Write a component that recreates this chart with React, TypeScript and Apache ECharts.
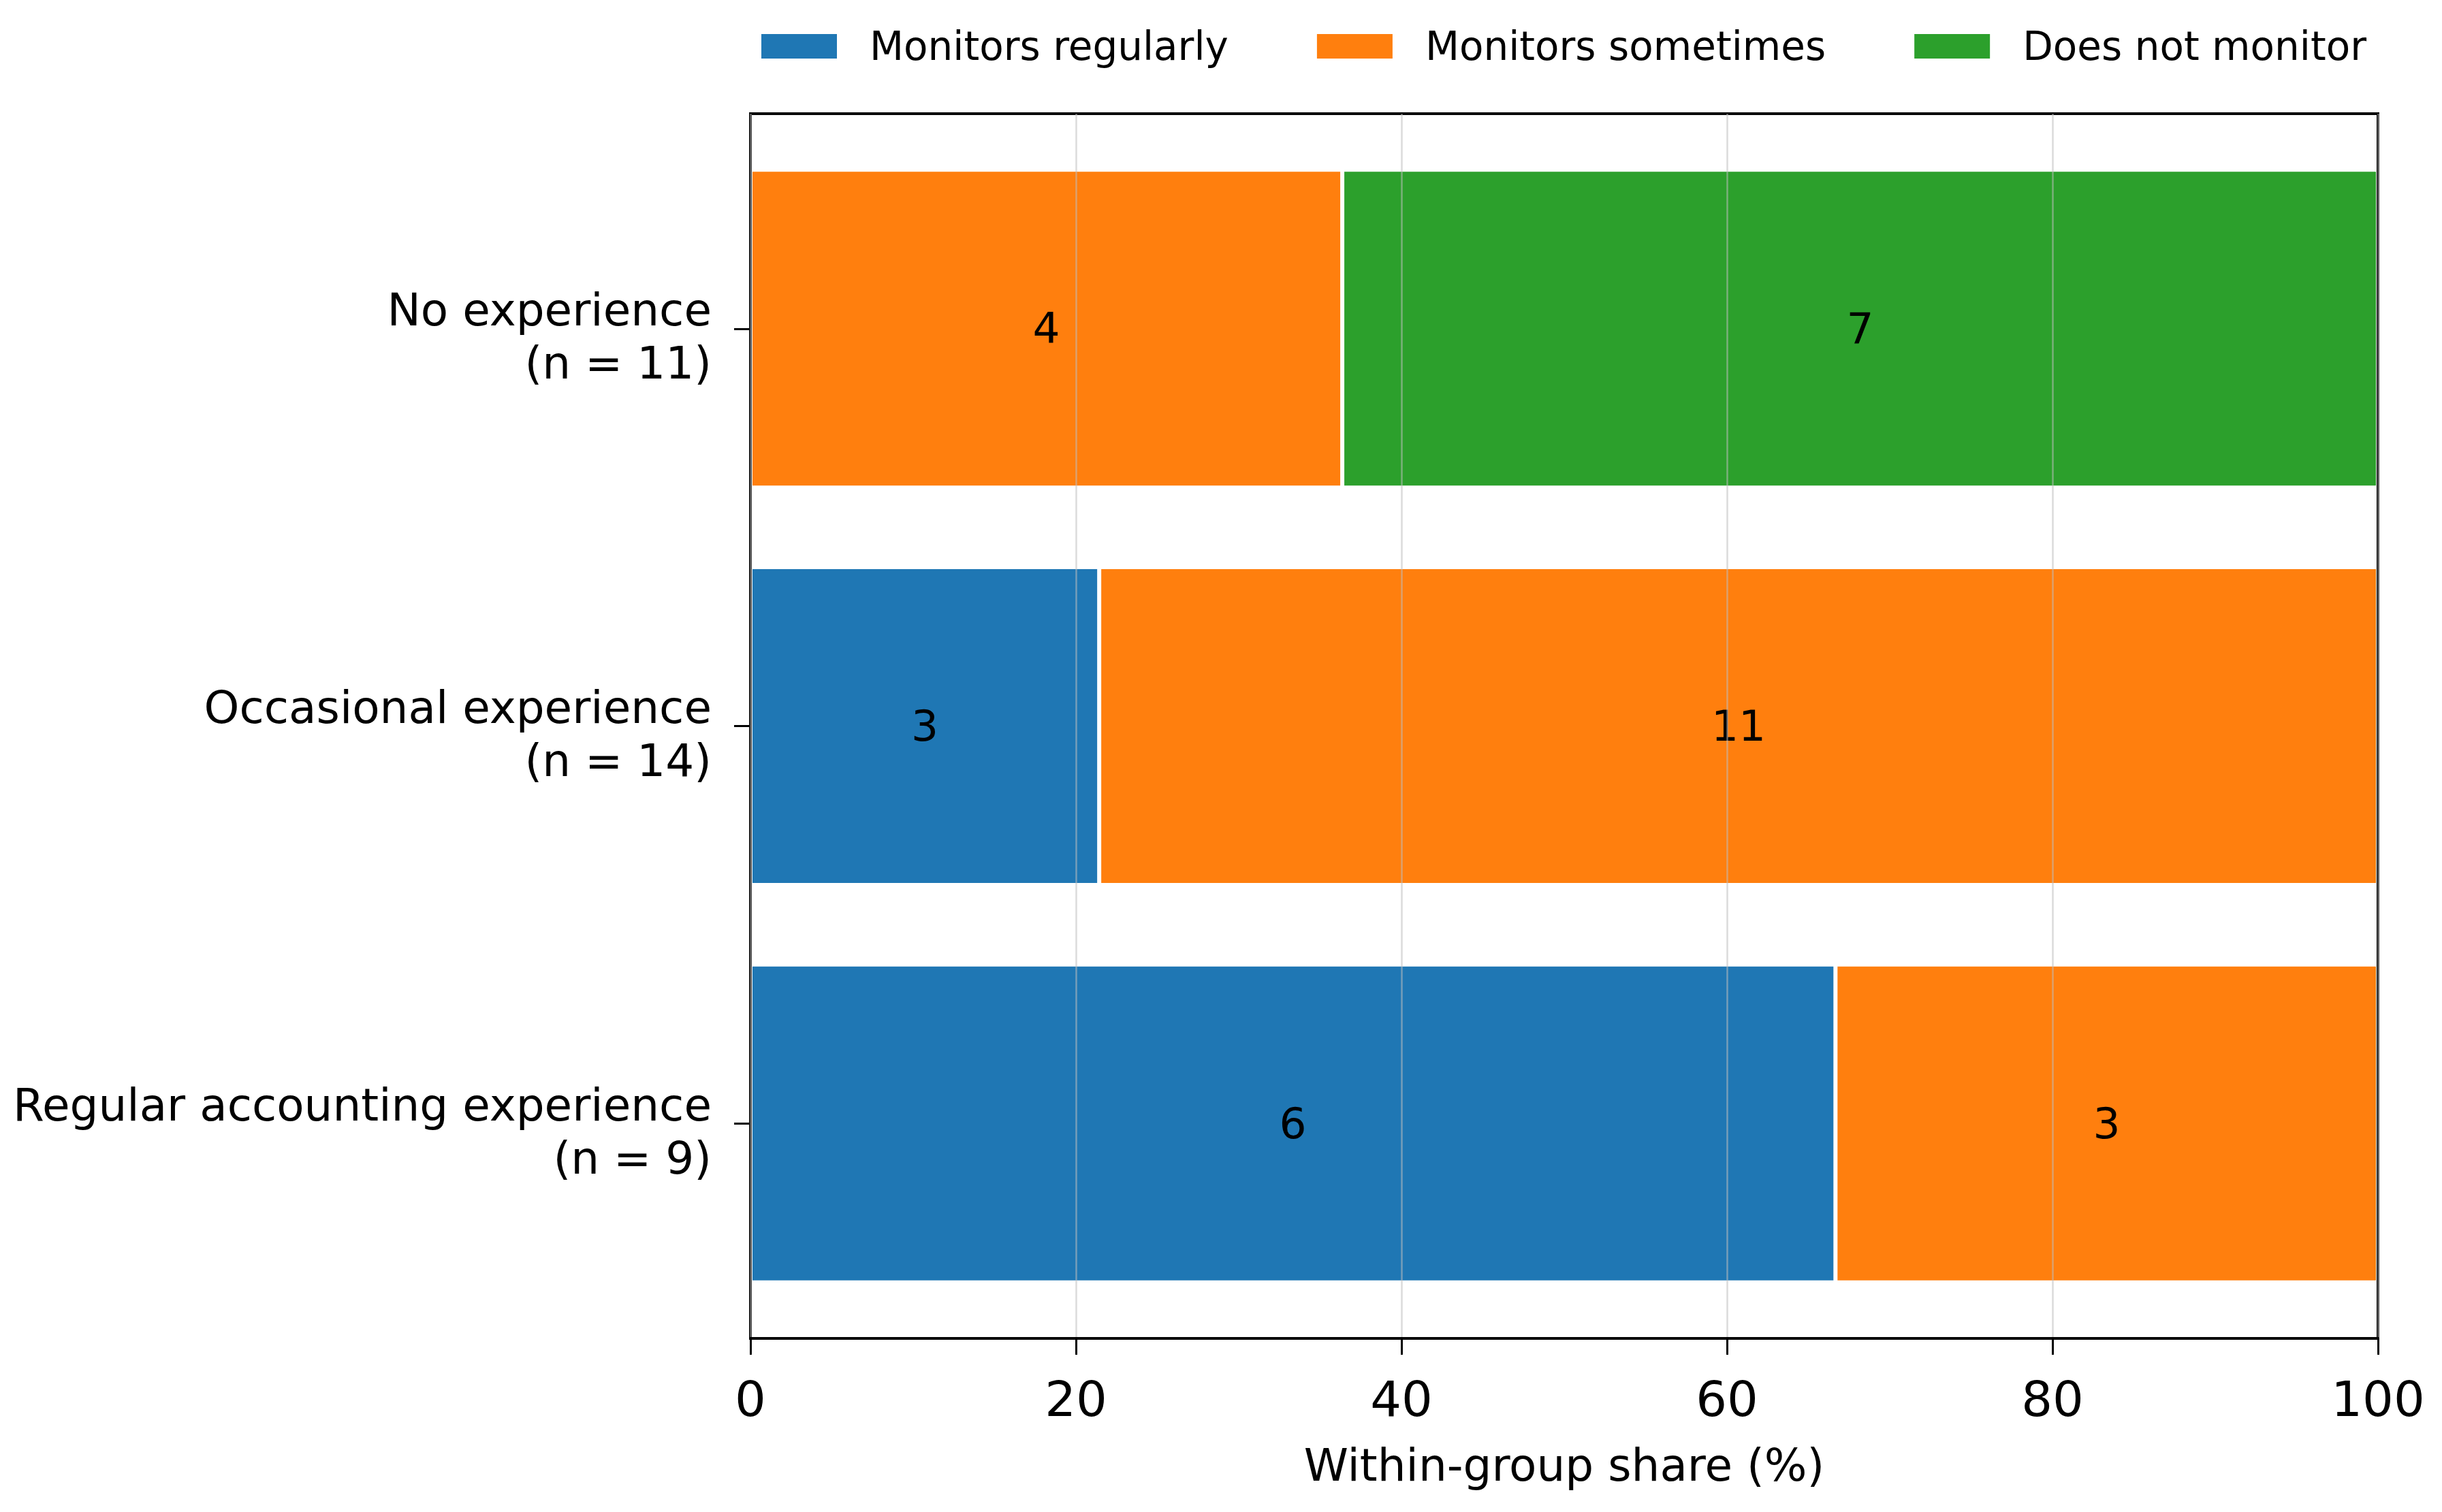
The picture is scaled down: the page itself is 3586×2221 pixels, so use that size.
import React, { useEffect, useRef } from "react";
import * as echarts from "echarts";

// Experience groups, top to bottom
const categories = ["No experience", "Occasional experience", "Regular accounting experience"];
const groupSizes = [11, 14, 9];

// Respondent counts per monitoring behaviour, one entry per group
const seriesNames = ["Monitors regularly", "Monitors sometimes", "Does not monitor"];
const regularlyCounts = [0, 3, 6];
const sometimesCounts = [4, 11, 3];
const notMonitorCounts = [7, 0, 0];

const xTicks = { min: 0, max: 100, interval: 20 };
const xTitle = "Within-group share (%)";

const colors = ["#1f77b4", "#ff7f0e", "#2ca02c"];
const FONT = "DejaVu Sans";

// Plot frame in pixels
const PLOT = { left: 1102, top: 167, width: 2390, height: 1799 };
const BAND_PAD = 24;
const LABEL_DROP = 12;

function toShares(counts: number[]) {
  return counts.map((c, i) =>
    c === 0 ? null : { value: (c / groupSizes[i]) * 100, count: c }
  );
}

export default function App() {
  const ref = useRef<HTMLDivElement>(null);

  useEffect(() => {
    if (!ref.current) return;
    const chart = echarts.init(ref.current, undefined, { renderer: "svg" });

    const countSets = [regularlyCounts, sometimesCounts, notMonitorCounts];

    chart.setOption({
      animation: false,
      backgroundColor: "#ffffff",
      textStyle: { fontFamily: FONT },
      legend: {
        left: 1111,
        top: 34,
        icon: "rect",
        itemWidth: 113,
        itemHeight: 38,
        itemGap: 128,
        data: seriesNames,
        textStyle: {
          fontFamily: FONT,
          fontSize: 58,
          color: "#000",
          padding: [0, 0, 0, 42],
        },
      },
      grid: [
        {
          // frame + value axis
          left: PLOT.left,
          top: PLOT.top,
          width: PLOT.width,
          height: PLOT.height,
          show: true,
          borderColor: "#000",
          borderWidth: 4,
          backgroundColor: "transparent",
          z: 10,
        },
        {
          // bars
          left: PLOT.left,
          top: PLOT.top + BAND_PAD,
          width: PLOT.width,
          height: PLOT.height - 2 * BAND_PAD,
        },
        {
          // group labels
          left: PLOT.left,
          top: PLOT.top + BAND_PAD + LABEL_DROP,
          width: PLOT.width,
          height: PLOT.height - 2 * BAND_PAD,
        },
      ],
      xAxis: [
        {
          gridIndex: 0,
          type: "value",
          min: xTicks.min,
          max: xTicks.max,
          interval: xTicks.interval,
          z: 10,
          axisLine: { show: true, lineStyle: { color: "#000", width: 4 } },
          axisTick: { show: true, length: 24, lineStyle: { color: "#000", width: 3 } },
          axisLabel: {
            fontFamily: FONT,
            fontSize: 72,
            color: "#000",
            margin: 53,
          },
          splitLine: {
            show: true,
            lineStyle: { color: "rgba(190,190,190,0.55)", width: 2.5 },
          },
          name: xTitle,
          nameLocation: "middle",
          nameGap: 153,
          nameTextStyle: { fontFamily: FONT, fontSize: 66, color: "#000" },
        },
        { gridIndex: 1, type: "value", min: xTicks.min, max: xTicks.max, show: false },
        { gridIndex: 2, type: "value", min: xTicks.min, max: xTicks.max, show: false },
      ],
      yAxis: [
        { gridIndex: 0, type: "value", min: 0, max: 1, show: false },
        {
          gridIndex: 1,
          type: "category",
          inverse: true,
          data: categories,
          axisLine: { show: false },
          axisTick: {
            show: true,
            alignWithLabel: true,
            length: 24,
            lineStyle: { color: "#000", width: 3 },
          },
          axisLabel: { show: false },
          splitLine: { show: false },
        },
        {
          gridIndex: 2,
          type: "category",
          inverse: true,
          data: categories,
          axisLine: { show: false },
          axisTick: { show: false },
          splitLine: { show: false },
          axisLabel: {
            fontFamily: FONT,
            fontSize: 66,
            color: "#000",
            margin: 57,
            lineHeight: 78,
            align: "right",
            formatter: (v: string) => {
              const i = categories.indexOf(v);
              return `${v}\n(n = ${groupSizes[i]})`;
            },
          },
        },
      ],
      series: seriesNames.map((name, k) => ({
        name,
        type: "bar",
        stack: "share",
        xAxisIndex: 1,
        yAxisIndex: 1,
        barWidth: "80%",
        data: toShares(countSets[k]),
        itemStyle: { color: colors[k], borderColor: "#fff", borderWidth: 3 },
        label: {
          show: true,
          position: "inside",
          fontFamily: FONT,
          fontSize: 63,
          color: "#000",
          formatter: (p: any) => (p.data && p.data.count ? String(p.data.count) : ""),
        },
      })),
    });

    return () => chart.dispose();
  }, []);

  return (
    <div
      ref={ref}
      style={{ position: "fixed", left: 0, top: 0, width: 3586, height: 2221 }}
    />
  );
}
